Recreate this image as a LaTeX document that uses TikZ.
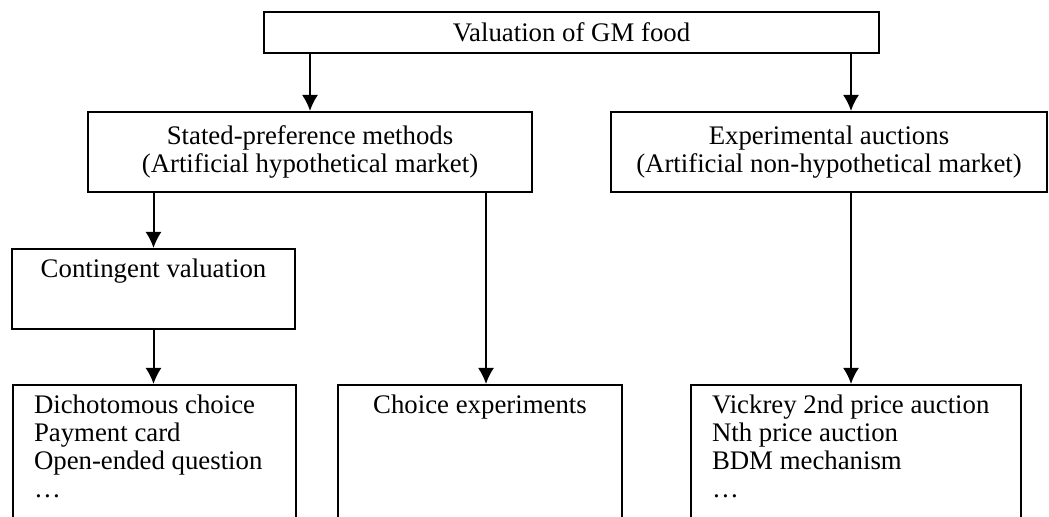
\documentclass[tikz,border=0pt]{standalone}
\usepackage{fontspec}
\setmainfont{Liberation Serif}
\usetikzlibrary{arrows.meta}

\tikzset{
  box/.style={draw, line width=1pt, inner sep=0pt, font=\fontsize{13.4}{14}\selectfont},
  listbox/.style={box, inner xsep=10.5pt, text height=14.5pt, text depth=120pt},
}

\begin{document}
\begin{tikzpicture}[x=0.5pt, y=-0.5pt, >={Latex[length=8pt,width=8pt]}]
  \clip (0,0) rectangle (1049,517);

  \node[box, minimum width=307.5pt, minimum height=20.5pt] (0) at (571.5,32.5) {Valuation of GM food};
  \node[box, align=center, minimum width=222pt, minimum height=40pt] (1) at (310,152) {Stated-preference methods\\(Artificial hypothetical market)};
  \node[box, align=center, minimum width=218pt, minimum height=40pt] (2) at (829,152) {Experimental auctions\\(Artificial non-hypothetical market)};
  \node[box, anchor=north, minimum width=141.5pt, text height=14.5pt, text depth=25.5pt] (3) at (153.5,248) {Contingent valuation};
  \node[listbox, anchor=north west] (4) at (12,384) {\begin{tabular}[t]{@{}p{120.5pt}@{}}Dichotomous choice\\ Payment card\\ Open-ended question\\ \dots\end{tabular}};
  \node[box, anchor=north, minimum width=142pt, text height=14.5pt, text depth=120pt] (5) at (480,384) {Choice experiments};
  \node[listbox, anchor=north west] (6) at (690,384) {\begin{tabular}[t]{@{}p{144pt}@{}}Vickrey 2nd price auction\\ Nth price auction\\ BDM mechanism\\ \dots\end{tabular}};

  \draw[->, line width=1pt] (0.south -| 1.north) -- (1.north);
  \draw[->, line width=1pt] ([xshift=-2.5pt]0.south -| 6.north) -- ([xshift=-2.5pt]2.north -| 6.north);
  \draw[->, line width=1pt] (1.south -| 3.north) -- (3.north);
  \draw[->, line width=1pt] ([xshift=3pt]1.south -| 5.north) -- ([xshift=3pt]5.north);
  \draw[->, line width=1pt] (3.south) -- (3.south |- 4.north);
  \draw[->, line width=1pt] ([xshift=-2.5pt]2.south -| 6.north) -- ([xshift=-2.5pt]6.north);
\end{tikzpicture}
\end{document}
